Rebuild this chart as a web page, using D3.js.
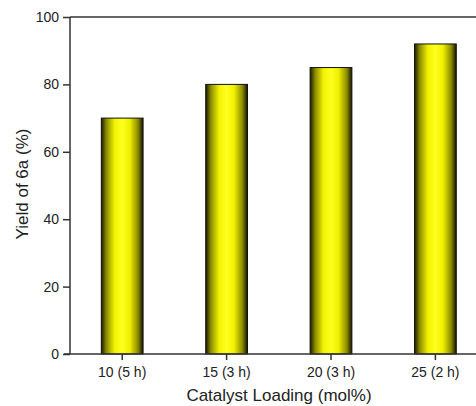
<!DOCTYPE html>
<html><head><meta charset="utf-8">
<script src="https://cdn.jsdelivr.net/npm/d3@7"></script>
<style>body{margin:0;background:#fff}svg{display:block}text{font-family:"Liberation Sans",Arial,sans-serif;fill:#222}</style>
</head><body><svg id="c" width="476" height="406"></svg>
<script>
const categories = ["10 (5 h)", "15 (3 h)", "20 (3 h)", "25 (2 h)"];
const yields = [70, 80, 85, 92];
const yTicks = [0, 20, 40, 60, 80, 100];

const svg = d3.select("#c");
const mLeft = 70, mTop = 17, mBottom = 354, mRight = 487.6;
const x = d3.scaleBand().domain(categories).range([mLeft, mRight]).paddingInner(0.6).paddingOuter(0.3);
const y = d3.scaleLinear().domain([0, 100]).range([mBottom, mTop]);

const defs = svg.append("defs");
const g = defs.append("linearGradient").attr("id", "bg").attr("x1", "0%").attr("x2", "100%");
[[0, "#1a1a00"], [0.12, "#8a8a00"], [0.32, "#f2f200"], [0.5, "#ffff20"], [0.68, "#f0f000"], [0.88, "#8a8a00"], [1, "#141400"]]
  .forEach(([o, c]) => g.append("stop").attr("offset", o).attr("stop-color", c));

svg.append("line").attr("x1", mLeft).attr("x2", 476).attr("y1", mTop).attr("y2", mTop)
  .attr("stroke", "#333").attr("stroke-width", 1.5);

svg.selectAll("rect.bar").data(yields).join("rect").attr("class", "bar")
  .attr("x", (d, i) => x(categories[i])).attr("width", x.bandwidth())
  .attr("y", d => y(d)).attr("height", d => y(0) - y(d))
  .attr("fill", "url(#bg)").attr("stroke", "#111").attr("stroke-width", 1);

const ya = svg.append("g").attr("transform", `translate(${mLeft},0)`)
  .call(d3.axisLeft(y).tickValues(yTicks).tickSize(7).tickPadding(4));
ya.selectAll("text").style("font-size", "14px");
ya.selectAll("line,path").attr("stroke", "#333").attr("stroke-width", 1.5);
ya.select(".domain").attr("d", `M0,${mBottom}V${mTop}`);

const xa = svg.append("g").attr("transform", `translate(0,${mBottom})`)
  .call(d3.axisBottom(x).tickSize(6).tickPadding(7));
xa.selectAll("text").style("font-size", "14px");
xa.selectAll("line,path").attr("stroke", "#333").attr("stroke-width", 1.5);
xa.select(".domain").attr("d", `M${mLeft - 6},0H476`);

svg.append("text").attr("x", 279).attr("y", 401).attr("text-anchor", "middle")
  .style("font-size", "17px").text("Catalyst Loading (mol%)");
svg.append("text").attr("transform", "translate(28,184) rotate(-90)").attr("text-anchor", "middle")
  .style("font-size", "17px").text("Yield of 6a (%)");
</script></body></html>
